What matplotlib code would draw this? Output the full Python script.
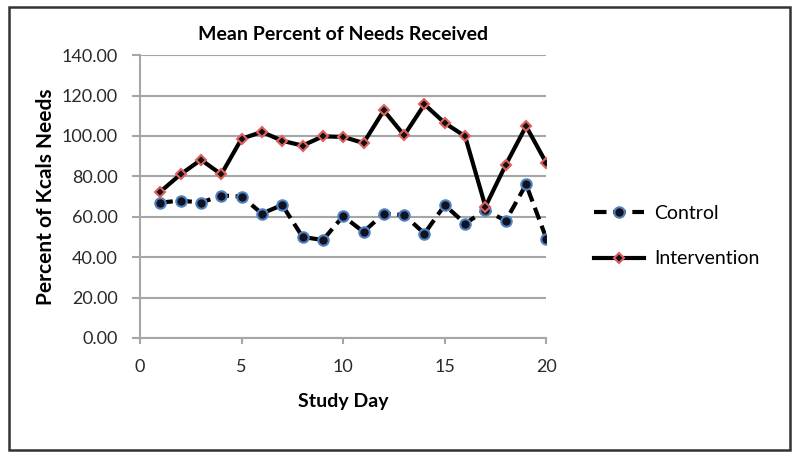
import matplotlib
matplotlib.use('Agg')
import matplotlib.pyplot as plt
from matplotlib.patches import Rectangle
from matplotlib.ticker import FormatStrFormatter

# Данные с графика
days = list(range(1, 21))
control = [67.0, 68.0, 67.0, 70.5, 70.0, 61.6, 65.8, 50.0, 48.5, 60.3,
           52.5, 61.6, 60.8, 51.7, 65.8, 56.6, 63.3, 58.0, 76.0, 49.2]
intervention = [72.4, 81.0, 88.2, 81.0, 98.6, 102.0, 97.6, 95.2, 99.8, 99.5,
                96.5, 112.6, 100.3, 115.6, 106.4, 99.8, 65.0, 85.7, 104.8, 86.5]

title = 'Mean Percent of Needs Received'
xlabel = 'Study Day'
ylabel = 'Percent of Kcals Needs'

plt.rcParams['font.family'] = ['Lato', 'DejaVu Sans']

fig = plt.figure(figsize=(8, 4.63), dpi=100)
ax = fig.add_axes([0.175, 0.27, 0.508, 0.611])

grid_col = '#a6a6a6'

ax.plot(days, control, color='black', linewidth=3, linestyle=(0, (3, 1.6)),
        marker='o', markersize=7.5, markerfacecolor='#111122',
        markeredgecolor='#4f81bd', markeredgewidth=1.5, label='Control', zorder=3)
ax.plot(days, intervention, color='black', linewidth=3, linestyle='-',
        marker='D', markersize=5.5, markerfacecolor='#111111',
        markeredgecolor='#e06060', markeredgewidth=1.5, label='Intervention', zorder=4)

ax.set_xlim(0, 20)
ax.set_ylim(0, 140)
ax.set_xticks([0, 5, 10, 15, 20])
ax.set_yticks(range(0, 141, 20))
ax.yaxis.set_major_formatter(FormatStrFormatter('%.2f'))
ax.grid(axis='y', color=grid_col, linewidth=1.5)
ax.set_axisbelow(True)

for side in ['top', 'right']:
    ax.spines[side].set_visible(False)
for side in ['left', 'bottom']:
    ax.spines[side].set_color(grid_col)
    ax.spines[side].set_linewidth(1.5)
ax.tick_params(axis='both', colors=grid_col, width=1.5, labelsize=13,
               labelcolor='#2a2a2a')
ax.tick_params(axis='y', length=6, pad=10)
ax.tick_params(axis='x', length=4, pad=11)

ax.set_title(title, fontsize=14, fontweight='bold', pad=11)
ax.set_xlabel(xlabel, fontsize=14, fontweight='bold', labelpad=13)
ax.set_ylabel(ylabel, fontsize=15, fontweight='bold', labelpad=4)

fig.legend(loc='center left', bbox_to_anchor=(0.7205, 0.49), frameon=False,
           fontsize=14, handlelength=2.6, labelspacing=1.46, handletextpad=0.5)

# рамка вокруг всей картинки
fig.patches.append(Rectangle((0.011, 0.028), 0.977, 0.956, transform=fig.transFigure,
                             fill=False, edgecolor='#333333', linewidth=1.8))

fig.savefig('out.png', dpi=100)
